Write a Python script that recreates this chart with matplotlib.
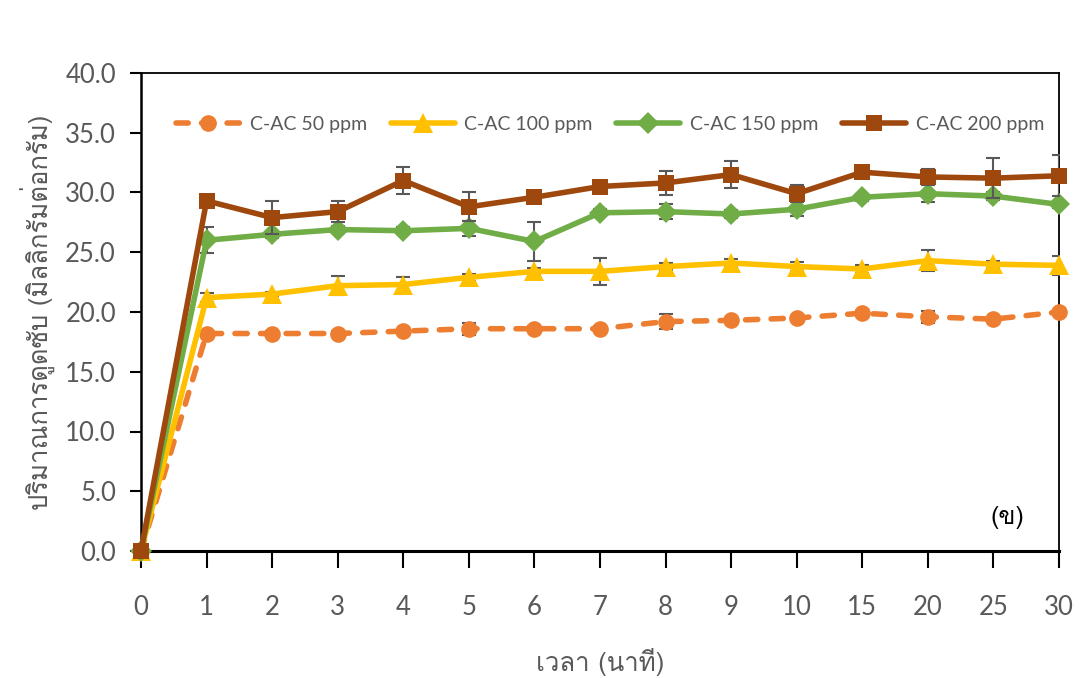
import matplotlib
matplotlib.use("Agg")
import matplotlib.pyplot as plt
from matplotlib import font_manager

try:
    from fontTools.ttLib import TTFont
except Exception:
    TTFont = None


def find_thai_family():
    """Return the name of an installed font that has Thai glyphs, if any."""
    if TTFont is None:
        return None
    seen = set()
    for f in font_manager.fontManager.ttflist:
        if f.fname in seen:
            continue
        seen.add(f.fname)
        try:
            tt = TTFont(f.fname, fontNumber=0, lazy=True)
            cmap = tt.getBestCmap() or {}
            if 0x0E1B in cmap and 0x0E21 in cmap:
                return f.name
        except Exception:
            continue
    return None


thai = find_thai_family()
thai_list = ([thai] if thai else []) + ["DejaVu Sans"]
latin_list = ["Lato"] + thai_list
plt.rcParams["font.family"] = latin_list

# Data
time_labels = ["0", "1", "2", "3", "4", "5", "6", "7", "8", "9", "10", "15", "20", "25", "30"]
series_names = ["C-AC 50 ppm", "C-AC 100 ppm", "C-AC 150 ppm", "C-AC 200 ppm"]

c50 = [0.0, 18.2, 18.2, 18.2, 18.4, 18.6, 18.6, 18.6, 19.2, 19.3, 19.5, 19.9, 19.6, 19.4, 20.0]
c100 = [0.0, 21.2, 21.5, 22.2, 22.3, 22.9, 23.4, 23.4, 23.8, 24.1, 23.8, 23.6, 24.3, 24.0, 23.9]
c150 = [0.0, 26.0, 26.5, 26.9, 26.8, 27.0, 25.9, 28.3, 28.4, 28.2, 28.6, 29.6, 29.9, 29.7, 29.0]
c200 = [0.0, 29.3, 27.9, 28.4, 31.0, 28.8, 29.6, 30.5, 30.8, 31.5, 29.9, 31.7, 31.3, 31.2, 31.4]

err50 = [0.0, 0.2, 0.2, 0.2, 0.2, 0.5, 0.2, 0.2, 0.6, 0.2, 0.2, 0.2, 0.5, 0.2, 0.2]
err100 = [0.0, 0.4, 0.2, 0.8, 0.6, 0.3, 0.3, 1.1, 0.3, 0.3, 0.4, 0.3, 0.9, 0.3, 0.8]
err150 = [0.0, 1.1, 0.3, 0.3, 0.3, 0.6, 1.6, 0.3, 0.6, 0.3, 0.6, 0.3, 0.7, 0.3, 0.3]
err200 = [0.0, 0.3, 1.4, 0.9, 1.1, 1.2, 0.3, 0.3, 1.0, 1.1, 0.7, 0.3, 0.7, 1.7, 1.7]

colors = ["#ED7D31", "#FFC000", "#70AD47", "#9E480E"]
markers = ["o", "^", "D", "s"]
msizes = [12, 14, 11, 12]

fig = plt.figure(figsize=(10.82, 6.78), dpi=100)
ax = fig.add_axes([141 / 1082, 1 - 551 / 678, 918 / 1082, 478 / 678])

x = list(range(len(time_labels)))
values = [c50, c100, c150, c200]
errors = [err50, err100, err150, err200]

for i, (name, y, e) in enumerate(zip(series_names, values, errors)):
    ax.errorbar(x, y, yerr=e, fmt="none", ecolor="#595959", elinewidth=1.5,
                capsize=5, capthick=1.5, zorder=2 + i)
    ls = (0, (2.2, 2.4)) if i == 0 else "-"
    ax.plot(x, y, color=colors[i], linestyle=ls, linewidth=4.0,
            marker=markers[i], markersize=msizes[i], markeredgewidth=0,
            label=name, zorder=3 + i, solid_capstyle="round",
            dash_capstyle="round", clip_on=False)

ax.set_xlim(0, len(time_labels) - 1)
ax.set_ylim(0, 40)
ax.set_xticks(x)
ax.set_xticklabels(time_labels)
ax.set_yticks([0, 5, 10, 15, 20, 25, 30, 35, 40])
ax.set_yticklabels([f"{v:.1f}" for v in range(0, 45, 5)])

ax.tick_params(axis="both", direction="out", colors="black", width=1.5,
               labelcolor="#595959", labelsize=18.5)
ax.tick_params(axis="x", length=12, pad=20)
ax.tick_params(axis="y", length=8, pad=10)

for side, lw in [("left", 1.8), ("bottom", 2.2), ("top", 1.3), ("right", 1.3)]:
    ax.spines[side].set_linewidth(lw)
    ax.spines[side].set_color("black")

ax.set_xlabel("เวลา (นาที)", fontsize=18.5, color="#595959", labelpad=20,
              family=thai_list, fontweight="light")
ax.set_ylabel("ปริมาณการดูดซับ (มิลลิกรัมต่อกรัม)", fontsize=18.5,
              color="#595959", labelpad=7, family=thai_list, fontweight="light")

ax.text(0.944, 0.07, "(ข)", transform=ax.transAxes, fontsize=18,
        color="black", ha="center", va="center", family=thai_list)

leg = ax.legend(loc="center", bbox_to_anchor=(0.511, 0.893), ncol=4,
                frameon=False, handlelength=3.3,
                columnspacing=1.2, handletextpad=0.5, labelcolor="#595959",
                prop={"family": latin_list, "size": 14})

fig.savefig("out.png", dpi=100)
